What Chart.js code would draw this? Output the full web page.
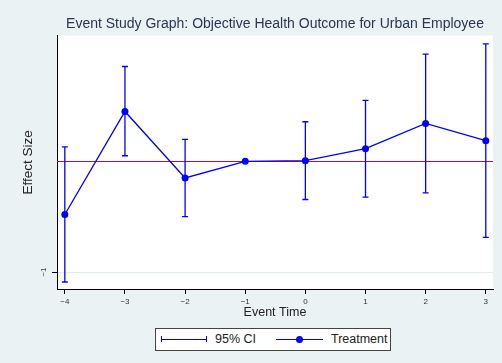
<!DOCTYPE html>
<html lang="en">
<head>
  <meta charset="UTF-8" />
  <title>Event Study Graph</title>
  <script src="https://cdn.jsdelivr.net/npm/chart.js"></script>
  <style>
    html, body { margin: 0; padding: 0; background: #eaf2f3; }
    #wrap { position: relative; width: 502px; height: 363px; font-family: "Liberation Sans", Arial, sans-serif; }
    #legend {
      position: absolute; left: 155px; top: 328px; width: 236px; height: 23px;
      box-sizing: border-box; border: 1px solid #444; background: #fff;
      font-size: 12.5px; color: #222;
    }
    #legend .ln { position: absolute; top: 10px; height: 0; border-top: 1.2px solid #0000ff; }
    #legend .cap { position: absolute; top: 7px; width: 0; height: 6px; border-left: 1.2px solid #0000ff; }
    #legend .dot { position: absolute; top: 7px; width: 7px; height: 7px; border-radius: 50%; background: #0000ff; }
    #legend .txt { position: absolute; top: 3px; line-height: 14px; }
  </style>
</head>
<body>
  <div id="wrap">
    <canvas id="eventChart"></canvas>

    <!-- Legend -->
    <div id="legend">
      <div class="ln" style="left:5px; width:46px;"></div>
      <div class="cap" style="left:5px;"></div>
      <div class="cap" style="left:50px;"></div>
      <div class="txt" style="left:59px;">95% CI</div>
      <div class="ln" style="left:120px; width:47px;"></div>
      <div class="dot" style="left:140px;"></div>
      <div class="txt" style="left:175px;">Treatment</div>
    </div>
  </div>

  <script>
  // Event time periods and estimated effects
  const eventTime = [-4, -3, -2, -1, 0, 1, 2, 3];
  const effect    = [-0.48, 0.45, -0.15, 0, 0.006, 0.114, 0.342, 0.186];
  const ciLow     = [-1.09, 0.05, -0.50, null, -0.345, -0.324, -0.285, -0.687];
  const ciHigh    = [0.13, 0.856, 0.198, null, 0.357, 0.55, 0.967, 1.06];

  // Axis ticks and reference line
  const xTickValues = [-4, -3, -2, -1, 0, 1, 2, 3];
  const yTickValues = [-1];
  const xRange = [-4.13, 3.12];
  const yRange = [-1.153, 1.135];
  const refLineY = 0;

  const blue = '#0000ff';
  const refRed = '#b8123a';
  const fontFamily = '"Liberation Sans", Arial, sans-serif';
  const minus = v => (v < 0 ? '\u2212' + Math.abs(v) : String(v));

  // CI segments: low/high pairs separated by gaps
  const ciPoints = [];
  eventTime.forEach((t, i) => {
    if (ciLow[i] === null) return;
    ciPoints.push({ x: t, y: ciLow[i] }, { x: t, y: ciHigh[i] }, { x: t, y: null });
  });

  // White plot region behind the data
  const plotBackground = {
    id: 'plotBackground',
    beforeDraw(chart) {
      const { ctx, chartArea: a } = chart;
      ctx.save();
      ctx.fillStyle = '#ffffff';
      ctx.fillRect(a.left, a.top, a.right - a.left, a.bottom - a.top);
      ctx.restore();
    }
  };

  // Horizontal reference line at refLineY, snapped to the pixel grid
  const refLine = {
    id: 'refLine',
    beforeDatasetsDraw(chart) {
      const { ctx, chartArea: a, scales } = chart;
      const y = Math.round(scales.y.getPixelForValue(refLineY)) + 0.5;
      ctx.save();
      ctx.strokeStyle = refRed;
      ctx.lineWidth = 1;
      ctx.beginPath();
      ctx.moveTo(a.left, y);
      ctx.lineTo(a.right, y);
      ctx.stroke();
      ctx.restore();
    }
  };

  const ctx = document.getElementById('eventChart').getContext('2d');

  new Chart(ctx, {
    type: 'line',
    data: {
      datasets: [
        {
          label: '95% CI',
          data: ciPoints,
          borderColor: blue,
          borderWidth: 1.3,
          pointStyle: 'line',
          pointRadius: 3,
          pointBorderColor: blue,
          pointBorderWidth: 1.3,
          spanGaps: false,
          order: 2
        },
        {
          label: 'Treatment',
          data: eventTime.map((t, i) => ({ x: t, y: effect[i] })),
          borderColor: blue,
          backgroundColor: blue,
          borderWidth: 1.3,
          pointRadius: 3.5,
          pointBackgroundColor: blue,
          pointBorderWidth: 0,
          order: 1
        }
      ]
    },
    options: {
      responsive: true,
      maintainAspectRatio: false,
      animation: false,
      layout: { padding: { top: 0, right: 9, bottom: 38, left: 0 } },
      plugins: {
        legend: { display: false },
        tooltip: { enabled: false },
        title: {
          display: true,
          fullSize: false,
          text: 'Event Study Graph: Objective Health Outcome for Urban Employee',
          color: '#2a3550',
          font: { family: fontFamily, size: 14, weight: 'normal' },
          padding: { top: 15.6, bottom: 3.2 }
        }
      },
      scales: {
        x: {
          type: 'linear',
          min: xRange[0],
          max: xRange[1],
          afterBuildTicks: s => { s.ticks = xTickValues.map(v => ({ value: v })); },
          afterFit: s => { s.height = 36; },
          border: { color: '#000', width: 1 },
          grid: { drawOnChartArea: false, drawTicks: true, tickLength: 5, color: '#000' },
          ticks: {
            callback: minus,
            color: '#333',
            font: { family: fontFamily, size: 8 },
            padding: 3,
            maxRotation: 0
          },
          title: {
            display: true,
            text: 'Event Time',
            color: '#222',
            font: { family: fontFamily, size: 12.5 },
            padding: { top: 0, bottom: 4.8 }
          }
        },
        y: {
          type: 'linear',
          min: yRange[0],
          max: yRange[1],
          afterBuildTicks: s => { s.ticks = yTickValues.map(v => ({ value: v })); },
          afterFit: s => { s.width = 57; },
          border: { color: '#000', width: 1 },
          grid: {
            color: '#e1eaed',
            tickColor: '#000',
            tickLength: 5,
            drawTicks: true
          },
          ticks: {
            callback: minus,
            color: '#444',
            font: { family: fontFamily, size: 8 },
            padding: 3.5,
            crossAlign: 'center',
            minRotation: 90,
            maxRotation: 90
          },
          title: {
            display: true,
            text: 'Effect Size',
            color: '#222',
            font: { family: fontFamily, size: 13.5 },
            padding: { top: 20, bottom: 0 }
          }
        }
      }
    },
    plugins: [plotBackground, refLine]
  });
  </script>
</body>
</html>
